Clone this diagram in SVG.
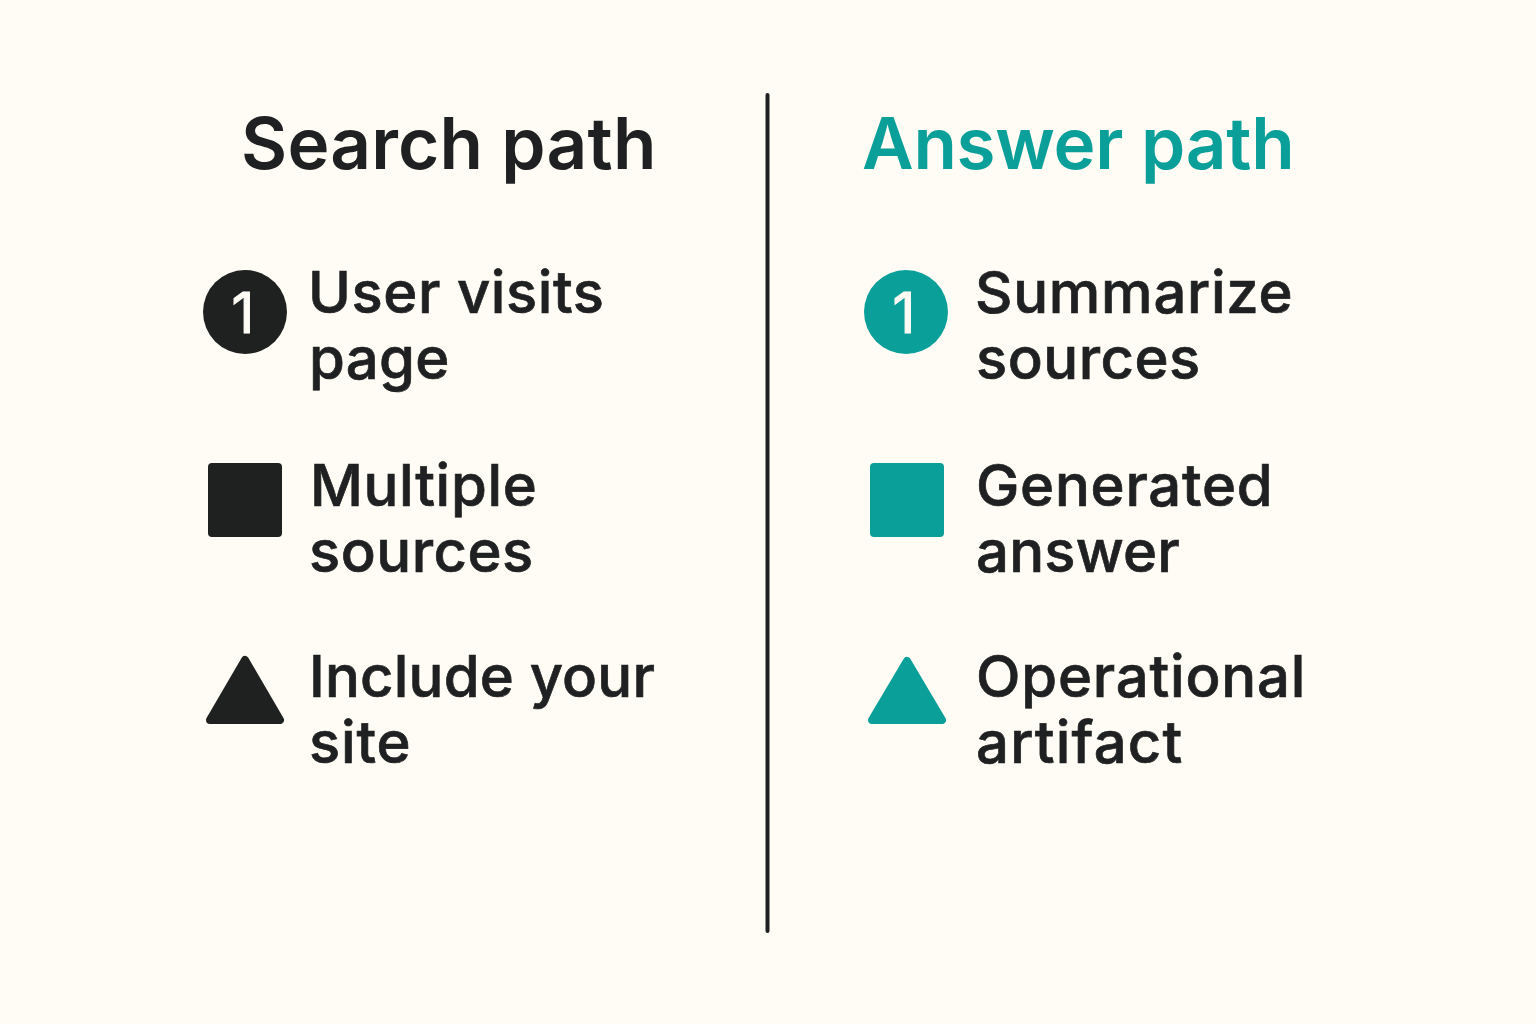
<svg xmlns="http://www.w3.org/2000/svg" width="1536" height="1024" viewBox="0 0 1536 1024">
<style>
text{font-family:Inter,"Liberation Sans",sans-serif;font-weight:500;font-size:58px;letter-spacing:0.55px;fill:#1f2021;stroke:#1f2021;stroke-width:0.7px}
.h{font-size:71px;font-weight:600;letter-spacing:0.2px;stroke-width:0}
.t{fill:#0b9f99;stroke:#0b9f99;letter-spacing:-0.25px}
.tf{fill:#0b9f99;stroke:#0b9f99}
.k{fill:#1f2020;stroke:#1f2020}
.tri{stroke-width:8px;stroke-linejoin:round}
.n{font-size:56px;fill:#fffcf5;stroke:#fffcf5;stroke-width:1.2px;font-weight:400;text-anchor:middle;letter-spacing:0}
</style>
<rect width="1536" height="1024" fill="#fffcf5"/>
<g id="connectors"><line x1="767.500" y1="95" x2="767.500" y2="931" stroke="#1f2021" stroke-width="4" stroke-linecap="round"/></g>
<g id="search-title"><text class="h" x="241" y="169">Search path</text></g>
<g id="answer-title"><text class="h t" x="862" y="169">Answer path</text></g>
<g id="s1"><circle class="k" style="stroke:none" cx="245" cy="312" r="42"/><text class="n" x="243" y="333">1</text><text x="308" y="313">User visits</text><text x="309" y="379" style="letter-spacing:0.3px">page</text></g>
<g id="s2"><rect class="k" style="stroke:none" x="208" y="463" width="74" height="74" rx="4"/><text x="310" y="506" style="letter-spacing:0.65px">Multiple</text><text x="309" y="572" style="letter-spacing:0.5px">sources</text></g>
<g id="s3"><path class="k tri" d="M245 660L280 720L210 720Z"/><text x="309" y="697" style="letter-spacing:0.2px">Include your</text><text x="309" y="763" style="letter-spacing:0.85px">site</text></g>
<g id="a1"><circle class="tf" style="stroke:none" cx="906" cy="312" r="42"/><text class="n" x="904" y="333">1</text><text x="975" y="313" style="letter-spacing:0.75px">Summarize</text><text x="976" y="379" style="letter-spacing:0.5px">sources</text></g>
<g id="a2"><rect class="tf" style="stroke:none" x="870" y="463" width="74" height="74" rx="4"/><text x="976" y="506" style="letter-spacing:0.75px">Generated</text><text x="976" y="572" style="letter-spacing:0.2px">answer</text></g>
<g id="a3"><path class="tf tri" d="M907 661L942 720L872 720Z"/><text x="976" y="697" style="letter-spacing:0.8px">Operational</text><text x="976" y="763" style="letter-spacing:1.2px">artifact</text></g>
</svg>
